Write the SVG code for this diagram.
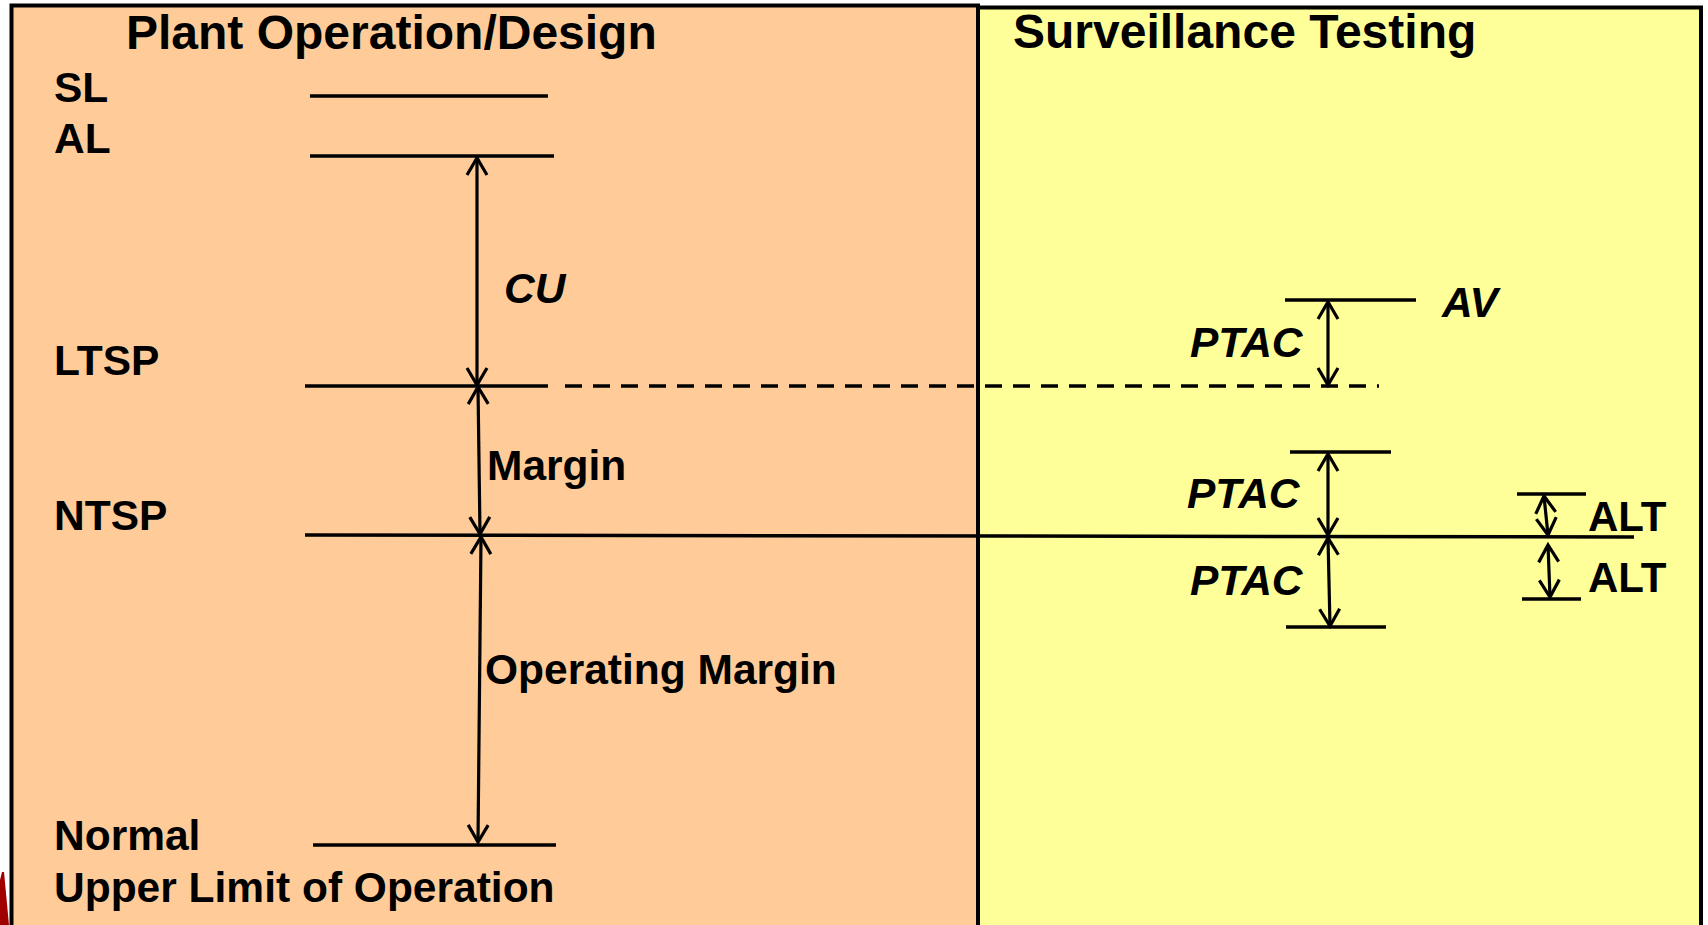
<svg xmlns="http://www.w3.org/2000/svg" width="1708" height="925" viewBox="0 0 1708 925">
<style>
.t{font-family:"Liberation Sans",Arial,sans-serif;font-weight:bold;fill:#000}
.h{font-size:48px}
.l{font-size:42.5px}
.i{font-style:italic}
.lv{stroke:#000;stroke-width:3.5;fill:none}
.ar{stroke:#000;stroke-width:3.2;fill:none;marker-start:url(#ah);marker-end:url(#ah)}
.box{stroke:#000;stroke-width:4}
</style>
<defs>
<marker id="ah" viewBox="-20 -13 24 26" refX="0" refY="0" markerWidth="24" markerHeight="26" markerUnits="userSpaceOnUse" orient="auto-start-reverse">
<path d="M-17,-10 L0,0 L-17,10" stroke="#000" stroke-width="3.2" fill="none"/>
</marker>
</defs>
<rect width="1708" height="925" fill="#fff"/>
<path d="M0,880 L2,872 L4,872 L9,925 L0,925 Z" fill="#A00000"/>
<g id="panel-left">
<rect class="box" x="11.5" y="5.5" width="966.5" height="940" fill="#FFCC99"/>
<text class="t h" x="126" y="49">Plant Operation/Design</text>
</g>
<g id="panel-right">
<rect class="box" x="978" y="7.5" width="723" height="940" fill="#FFFF99"/>
<text class="t h" x="1013" y="48">Surveillance Testing</text>
</g>
<g id="SL">
<text class="t l" x="54" y="102">SL</text>
<line class="lv" x1="310" y1="96" x2="548" y2="96"/>
</g>
<g id="AL">
<text class="t l" x="54" y="153">AL</text>
<line class="lv" x1="310" y1="156" x2="554" y2="156"/>
</g>
<g id="LTSP">
<text class="t l" x="54" y="375">LTSP</text>
<line class="lv" x1="305" y1="386" x2="548" y2="386"/>
<line class="lv" x1="565" y1="386" x2="1379" y2="386" stroke-width="3" stroke-dasharray="17 11"/>
</g>
<g id="NTSP">
<text class="t l" x="54" y="530">NTSP</text>
<line class="lv" x1="305" y1="535" x2="1634" y2="537"/>
</g>
<g id="Normal">
<text class="t l" x="54" y="850">Normal</text>
<text class="t l" x="54" y="902">Upper Limit of Operation</text>
<line class="lv" x1="313" y1="845" x2="556" y2="845"/>
</g>
<g id="AV">
<line class="lv" x1="1285" y1="300" x2="1416" y2="300"/>
<text class="t l i" x="1442" y="317">AV</text>
</g>
<g id="PTAC-top">
<line class="lv" x1="1290" y1="452" x2="1391" y2="452"/>
</g>
<g id="PTAC-bottom">
<line class="lv" x1="1286" y1="627" x2="1386" y2="627"/>
</g>
<g id="ALT-top">
<line class="lv" x1="1517" y1="494" x2="1586" y2="494"/>
</g>
<g id="ALT-bottom">
<line class="lv" x1="1522" y1="599" x2="1581" y2="599"/>
</g>
<g id="labels">
<text class="t l i" x="504" y="303">CU</text>
<text class="t l" x="487" y="480">Margin</text>
<text class="t l" x="485" y="684">Operating Margin</text>
<text class="t l i" x="1190" y="357">PTAC</text>
<text class="t l i" x="1187" y="508">PTAC</text>
<text class="t l i" x="1190" y="595">PTAC</text>
<text class="t" style="font-size:42px" x="1588" y="531">ALT</text>
<text class="t" style="font-size:42px" x="1588" y="592">ALT</text>
</g>
<g id="connectors">
<line class="ar" x1="477" y1="158" x2="477" y2="385"/>
<line class="ar" x1="478" y1="387" x2="480" y2="534"/>
<line class="ar" x1="481" y1="537" x2="478" y2="842"/>
<line class="ar" x1="1328" y1="302" x2="1328" y2="385"/>
<line class="ar" x1="1328" y1="454" x2="1328" y2="535"/>
<line class="ar" x1="1328" y1="538" x2="1330" y2="626"/>
<line class="ar" x1="1544" y1="496" x2="1548" y2="535"/>
<line class="ar" x1="1548" y1="545" x2="1550" y2="597"/>
</g>
</svg>
